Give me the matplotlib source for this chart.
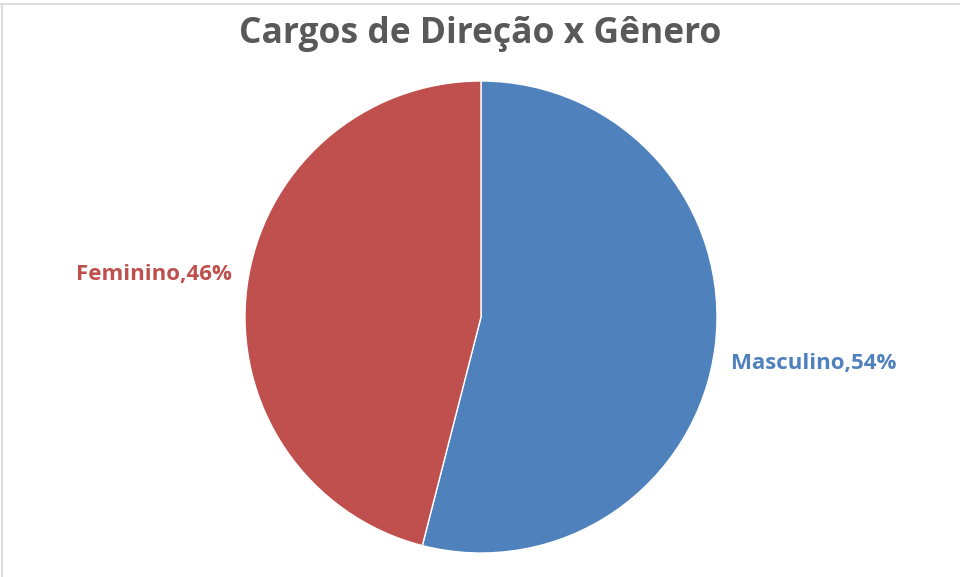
import matplotlib.pyplot as plt
from matplotlib.lines import Line2D

categorias = ['Masculino', 'Feminino']
percentuais = [54, 46]
cores = ['#4F81BD', '#C0504D']
titulo = 'Cargos de Direção x Gênero'

plt.rcParams['font.family'] = ['Open Sans', 'DejaVu Sans']

W, H = 960, 577
fig = plt.figure(figsize=(W / 100, H / 100), dpi=100)
fig.patch.set_facecolor('white')

# pie centre (481, 317) px, radius 236 px
cx, cy, r = 481, 317, 236
ax = fig.add_axes([(cx - r) / W, (H - cy - r) / H, 2 * r / W, 2 * r / H])

fatias, textos = ax.pie(percentuais, colors=cores, startangle=90, counterclock=False,
                        labels=[f'{c},{p}%' for c, p in zip(categorias, percentuais)],
                        labeldistance=1.42,
                        wedgeprops=dict(edgecolor='white', linewidth=1.0))
for t, c in zip(textos, cores):
    t.set_color(c)
    t.set_fontsize(16)
    t.set_fontweight('bold')
    t.set_ha('center')
    t.set_va('center')
# small nudge to match the original label placement
textos[0].set_y(textos[0].get_position()[1] - 0.02)
textos[1].set_x(textos[1].get_position()[0] + 0.025)
ax.set_xlim(-1, 1)
ax.set_ylim(-1, 1)
ax.set_aspect('equal')
ax.axis('off')

fig.text(0.5, (H - 34) / H, titulo, ha='center', va='center',
         fontsize=25.5, fontweight='bold', color='#595959')

# faint frame at top and left
fig.add_artist(Line2D([0, 1], [1 - 3.5 / H, 1 - 3.5 / H], color='#DCDCDC', lw=1.5))
fig.add_artist(Line2D([1.5 / W, 1.5 / W], [0, 1 - 3.5 / H], color='#DCDCDC', lw=1.5))

fig.savefig('out.png', dpi=100)
